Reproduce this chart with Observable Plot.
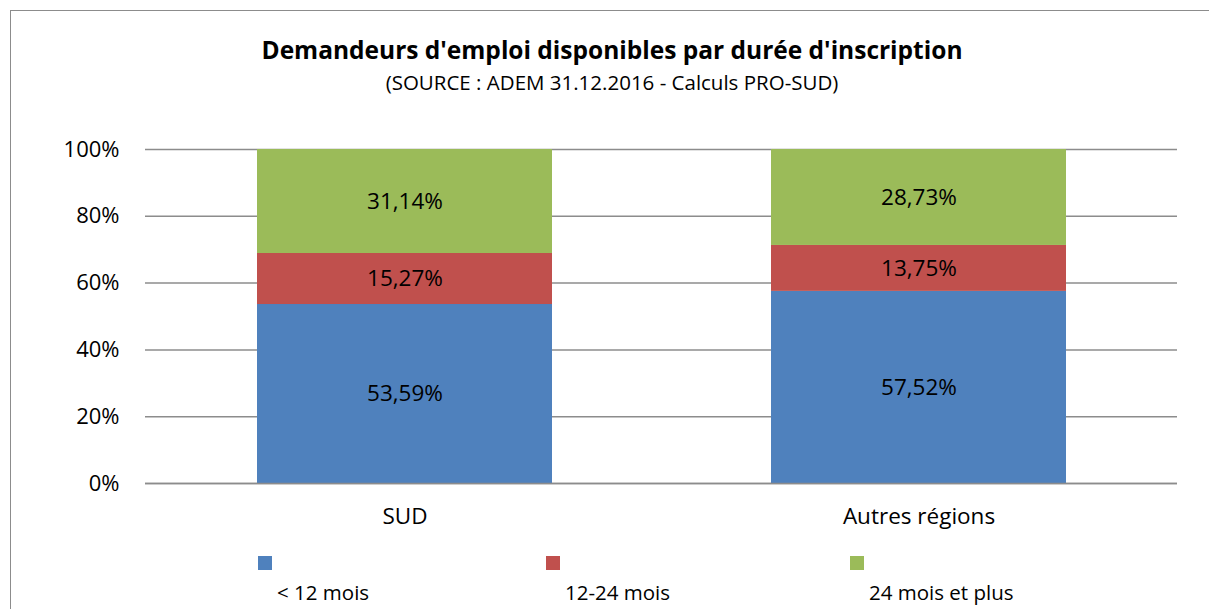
<!DOCTYPE html>
<html>
<head>
<meta charset="utf-8">
<script src="https://cdn.jsdelivr.net/npm/d3@7"></script>
<script src="https://cdn.jsdelivr.net/npm/@observablehq/plot@0.6"></script>
<style>
  html, body { margin: 0; padding: 0; background: #fff; }
  #wrap { position: relative; width: 1209px; height: 609px; overflow: hidden; font-family: "Open Sans", Lato, sans-serif; color: #000; }
  #frame { position: absolute; left: 10px; top: 10px; width: 1210px; height: 620px; border: 1.5px solid #8c8c8c; box-sizing: border-box; }
  #title { position: absolute; left: 0; width: 1224px; top: 34px; text-align: center; font-weight: bold; font-size: 24.5px; line-height: 32px; }
  #subtitle { position: absolute; left: 0; width: 1224px; top: 68px; text-align: center; font-size: 20.5px; line-height: 28px; }
  #chart { position: absolute; left: 0; top: 0; }
  .leg-sq { position: absolute; width: 14px; height: 14px; top: 556px; }
  .leg-lb { position: absolute; top: 577px; font-size: 20.5px; line-height: 30px; white-space: nowrap; }
</style>
</head>
<body>
<div id="wrap">
  <div id="frame"></div>
  <div id="chart"></div>
  <div id="title"></div>
  <div id="subtitle"></div>
</div>
<script>
const titleText = "Demandeurs d'emploi disponibles par durée d'inscription";
const subtitleText = "(SOURCE : ADEM 31.12.2016 - Calculs PRO-SUD)";
const regions = ["SUD", "Autres régions"];
const durations = ["< 12 mois", "12-24 mois", "24 mois et plus"];
const colors = ["#4F81BD", "#C0504D", "#9BBB59"];
const valuesSUD = [53.59, 15.27, 31.14];
const valuesAutres = [57.52, 13.75, 28.73];
const yTicks = [0, 20, 40, 60, 80, 100];
const legendX = [258, 546, 850];

document.getElementById("title").textContent = titleText;
document.getElementById("subtitle").textContent = subtitleText;

const series = [valuesSUD, valuesAutres];
const data = [];
regions.forEach((r, i) => durations.forEach((d, j) => data.push({region: r, duration: d, value: series[i][j]})));

const fmt = v => v.toFixed(2).replace(".", ",") + "%";

const chart = Plot.plot({
  width: 1209,
  height: 609,
  marginLeft: 145,
  marginRight: 32,
  marginTop: 149,
  marginBottom: 126,
  style: { fontFamily: "'Open Sans', Lato, sans-serif", fontSize: "22px", color: "#000", background: "transparent" },
  x: { domain: regions, paddingInner: 0.427, paddingOuter: 0.2155, label: null },
  y: { domain: [0, 100], ticks: yTicks, label: null },
  color: { domain: durations, range: colors },
  marks: [
    Plot.ruleY(yTicks, { stroke: "#8c8c8c", strokeWidth: 1.5 }),
    Plot.barY(data, Plot.stackY({ x: "region", y: "value", fill: "duration", order: durations })),
    Plot.ruleY([0], { stroke: "#8c8c8c", strokeWidth: 1.5 }),
    Plot.text(data, Plot.stackY({ x: "region", y: "value", z: "duration", order: durations, text: d => fmt(d.value), fill: "#000", fontSize: 22.5 })),
    Plot.axisY({ ticks: yTicks, tickFormat: d => d + "%", tickSize: 0, tickPadding: 26, fontSize: 22, label: null }),
    Plot.axisX({ tickSize: 0, tickPadding: 25, fontSize: 22.5, label: null })
  ]
});
document.getElementById("chart").appendChild(chart);

const colorScale = chart.scale("color");
const wrap = document.getElementById("wrap");
colorScale.domain.forEach((d, i) => {
  const sq = document.createElement("div");
  sq.className = "leg-sq";
  sq.style.left = legendX[i] + "px";
  sq.style.background = colorScale.range[i];
  wrap.appendChild(sq);
  const lb = document.createElement("div");
  lb.className = "leg-lb";
  lb.style.left = (legendX[i] + 19) + "px";
  lb.textContent = d;
  wrap.appendChild(lb);
});
</script>
</body>
</html>
